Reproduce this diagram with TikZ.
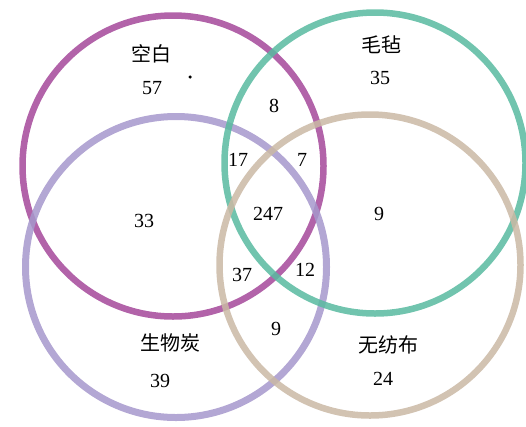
\documentclass[tikz,border=0pt]{standalone}
\usepackage{fontspec}
\setmainfont{Liberation Serif}
\newfontfamily\cjk{Noto Sans CJK SC}
\definecolor{cMag}{RGB}{164,72,154}
\definecolor{cTeal}{RGB}{88,186,160}
\definecolor{cLav}{RGB}{166,152,204}
\definecolor{cTan}{RGB}{202,184,164}
\begin{document}
\begin{tikzpicture}[x=1pt,y=-1pt,
  ring/.style={circle,draw,line width=6.5pt,minimum size=301pt,inner sep=0pt,draw opacity=0.85},
  num/.style={font=\fontsize{20}{23}\selectfont,inner sep=0pt},
  lab/.style={font=\cjk\fontsize{20}{23}\selectfont,inner sep=0pt}]
\useasboundingbox (0,0) rectangle (526,426);
\node[ring,draw=cMag] (cA) at (173,166) {};
\node[ring,draw=cLav,line width=7pt] (cC) at (176,267) {};
\node[ring,draw=cTeal] (cB) at (375,163) {};
\node[ring,draw=cTan] (cD) at (370,265) {};
\node[lab] (tA) at (151,54) {空白};
\node[num] (nA) at (152,88) {57};
\node[circle,fill=black,inner sep=0pt,minimum size=3.5pt] (dot) at (190,77) {};
\node[lab] (tB) at (381,45) {毛毡};
\node[num] (nB) at (380,78) {35};
\node[num] (nAB) at (274,106) {8};
\node[num] (nABC) at (238,160) {17};
\node[num] (nABD) at (302,160) {7};
\node[num] (nAC) at (144,221) {33};
\node[num] (nAll) at (268,214) {247};
\node[num] (nBD) at (379,214) {9};
\node[num] (nACD) at (242,275) {37};
\node[num] (nBCD) at (305,270) {12};
\node[num] (nCD) at (276,329) {9};
\node[lab] (tC) at (170,343) {生物炭};
\node[num] (nC) at (160,381) {39};
\node[lab] (tD) at (388,345) {无纺布};
\node[num] (nD) at (383,379) {24};
\end{tikzpicture}
\end{document}
